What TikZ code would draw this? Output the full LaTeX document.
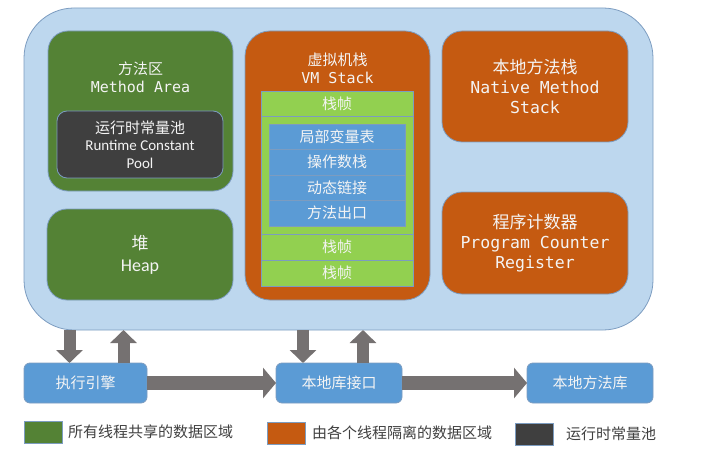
\documentclass[tikz,border=0pt]{standalone}
\usepackage{fontspec}
\setmainfont{Carlito}
\newfontfamily\cjk{Noto Sans CJK SC}
\newfontfamily\mono{DejaVu Sans Mono}
\usetikzlibrary{arrows.meta}
\definecolor{outerblue}{HTML}{BDD7EE}
\definecolor{bordercol}{HTML}{7C9CC0}
\definecolor{dkgreen}{HTML}{548235}
\definecolor{orng}{HTML}{C55A11}
\definecolor{dkgray}{HTML}{3F3F3F}
\definecolor{ltgreen}{HTML}{92D050}
\definecolor{midblue}{HTML}{5B9BD5}
\definecolor{arrowgray}{HTML}{757171}
\definecolor{legtext}{HTML}{404040}
\definecolor{boxtext}{HTML}{F4F4F4}
\begin{document}
\begin{tikzpicture}[x=1pt,y=-1pt,
  box/.style={draw=bordercol,line width=0.8pt,inner sep=0pt,outer sep=0pt,text=boxtext,align=center},
  greenbox/.style={box,fill=dkgreen,rounded corners=20pt},
  orangebox/.style={box,fill=orng,rounded corners=20pt},
  framerow/.style={box,fill=ltgreen,minimum width=152pt},
  bluerow/.style={box,fill=midblue,minimum width=136pt,minimum height=25.5pt},
  botbox/.style={box,fill=midblue,rounded corners=6pt,minimum height=40pt},
  vbig/.style={draw=arrowgray,line width=12pt,-{Triangle[width=26pt,length=13pt]}},
  hbig/.style={draw=arrowgray,line width=14pt,-{Triangle[width=30pt,length=13pt]}},
  legbox/.style={box,minimum width=38pt,minimum height=22pt},
  legtxt/.style={anchor=west,inner sep=0pt,text=legtext,font={\fontsize{15}{18}\selectfont\cjk}},
  f15/.style={font={\fontsize{15}{18.5}\selectfont}},
  f17/.style={font={\fontsize{17}{20}\selectfont}}
]
\useasboundingbox (0,0) rectangle (722,465);

% outer runtime data area
\node[box,fill=outerblue,rounded corners=50pt,minimum width=629pt,minimum height=322pt] (main) at (338.5,169) {};

% method area
\node[greenbox,minimum width=185pt,minimum height=160pt] (method) at (140.5,111) {};
\node[text=boxtext,align=center,inner sep=0pt,f15] (methodt) at (140.5,77.5) {{\cjk 方法区}\\{\mono Method Area}};
\node[box,fill=dkgray,rounded corners=10pt,minimum width=166pt,minimum height=67pt,font={\fontsize{15}{17.5}\selectfont}] (rcp) at (140,144.5) {{\cjk 运行时常量池}\\Runtime Constant\\Pool};

% heap
\node[greenbox,minimum width=186pt,minimum height=91pt,font={\fontsize{17}{22}\selectfont}] (heap) at (140,254.5) {{\cjk 堆}\\\fontsize{18}{22}\selectfont Heap};

% VM stack
\node[orangebox,rounded corners=25pt,minimum width=185pt,minimum height=269pt] (vm) at (337.5,165.5) {};
\node[text=boxtext,align=center,inner sep=0pt,f15] (vmt) at (337.5,68.5) {{\cjk 虚拟机栈}\\{\mono VM Stack}};
\node[framerow,minimum height=25pt,font={\fontsize{15}{18}\selectfont\cjk}] (fr1) at (337,103.5) {栈帧};
\node[framerow,minimum height=118pt] (frm) at (337,175) {};
\node[framerow,minimum height=26pt,font={\fontsize{15}{18}\selectfont\cjk}] (fr2) at (337,247) {栈帧};
\node[framerow,minimum height=26pt,font={\fontsize{15}{18}\selectfont\cjk}] (fr3) at (337,273) {栈帧};
\node[bluerow,font={\fontsize{15}{18}\selectfont\cjk}] (b1) at (337,136.75) {局部变量表};
\node[bluerow,font={\fontsize{15}{18}\selectfont\cjk}] (b2) at (337,162.25) {操作数栈};
\node[bluerow,font={\fontsize{15}{18}\selectfont\cjk}] (b3) at (337,187.75) {动态链接};
\node[bluerow,font={\fontsize{15}{18}\selectfont\cjk}] (b4) at (337,213.25) {方法出口};

% native method stack and PC register
\node[orangebox,minimum width=186pt,minimum height=111pt,f17] (native) at (535,86.5) {{\cjk 本地方法栈}\\{\mono\fontsize{16.5}{20}\selectfont Native Method}\\{\mono\fontsize{16.5}{20}\selectfont Stack}};
\node[orangebox,minimum width=186pt,minimum height=102pt,f17] (pc) at (535,243) {{\cjk 程序计数器}\\{\mono\fontsize{16.5}{20}\selectfont Program Counter}\\{\mono\fontsize{16.5}{20}\selectfont Register}};

% bottom row
\node[botbox,minimum width=123pt,font={\fontsize{15}{18}\selectfont\cjk}] (exec) at (85.5,383) {执行引擎};
\node[botbox,minimum width=126pt,font={\fontsize{15}{18}\selectfont\cjk}] (jni) at (339,383) {本地库接口};
\node[botbox,minimum width=126pt,font={\fontsize{15}{18}\selectfont\cjk}] (nlib) at (590,383) {本地方法库};

% arrows
\draw[vbig] ([xshift=-16pt]exec.north |- main.south) -- ([xshift=-16pt]exec.north);
\draw[vbig] ([xshift=38pt]exec.north) -- ([xshift=38pt]exec.north |- main.south);
\draw[vbig] ([xshift=-36pt]jni.north |- main.south) -- ([xshift=-36pt]jni.north);
\draw[vbig] ([xshift=24pt]jni.north) -- ([xshift=24pt]jni.north |- main.south);
\draw[hbig] (exec.east) -- (jni.west);
\draw[hbig] (jni.east) -- (nlib.west);

% legend
\node[legbox,fill=dkgreen] (lg) at (43.5,432) {};
\node[legtxt] (lgt) at (68,432) {所有线程共享的数据区域};
\node[legbox,fill=orng] (lo) at (286,433) {};
\node[legtxt] (lot) at (312,433) {由各个线程隔离的数据区域};
\node[legbox,fill=dkgray] (ld) at (534.5,434) {};
\node[legtxt] (ldt) at (566,434) {运行时常量池};
\end{tikzpicture}
\end{document}
